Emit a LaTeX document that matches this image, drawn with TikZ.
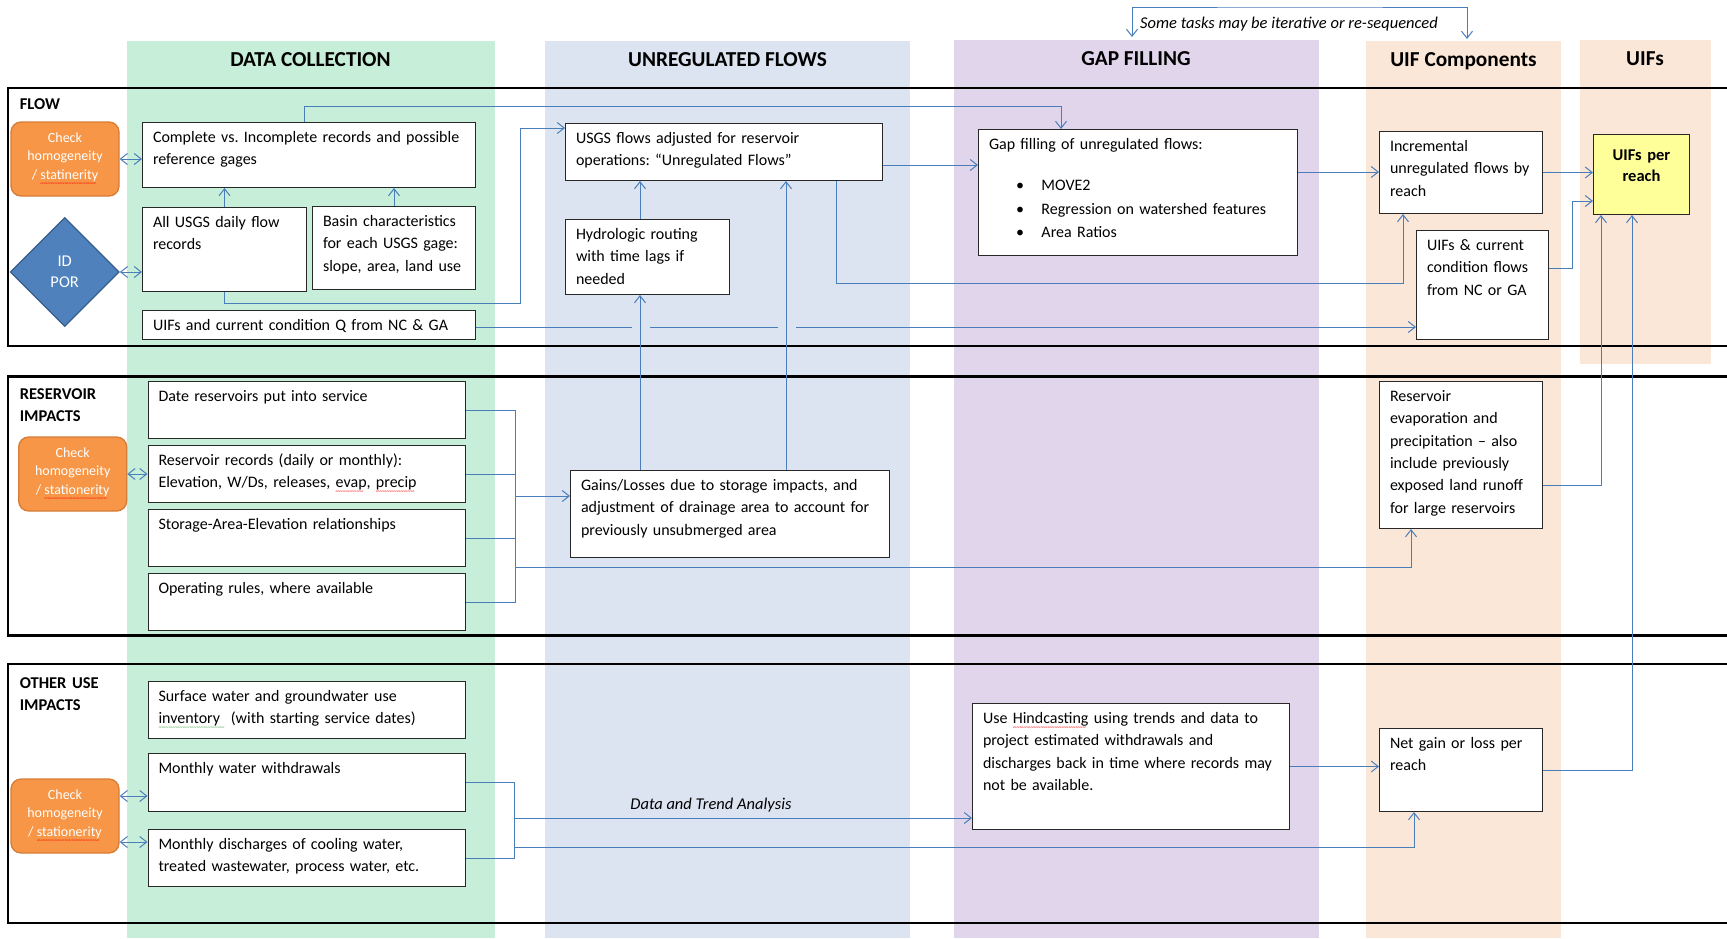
\documentclass[tikz,border=0pt]{standalone}
\usepackage{fontspec}
\setmainfont{Carlito}
\usetikzlibrary{arrows.meta}
\usetikzlibrary{shapes.geometric}
\frenchspacing

\definecolor{greencol}{RGB}{198,238,216}
\definecolor{bluecol}{RGB}{219,228,240}
\definecolor{purplecol}{RGB}{225,213,236}
\definecolor{peachcol}{RGB}{251,231,215}
\definecolor{checkfill}{RGB}{247,150,70}
\definecolor{checkline}{RGB}{214,125,55}
\definecolor{idfill}{RGB}{79,129,189}
\definecolor{idline}{RGB}{56,93,138}
\definecolor{uifyellow}{RGB}{255,255,153}
\definecolor{linkblue}{RGB}{74,126,187}
\definecolor{boxline}{RGB}{40,40,40}
\definecolor{spellgreen}{RGB}{80,170,80}

\newsavebox{\squigbox}
\newcommand{\squig}[2][red]{\sbox{\squigbox}{#2}\rlap{\usebox{\squigbox}}\hbox to \wd\squigbox{\color{#1}\leaders\hbox{\raisebox{-6pt}{\fontsize{7}{7}\selectfont\textasciitilde}}\hfill}}
\newcommand{\gapitem}{\hspace*{27pt}\makebox[25.5pt][l]{\textbullet}}
\newcommand{\boxlines}[1]{\begin{tabular}[t]{@{}l@{}}#1\end{tabular}}

\tikzset{
	cell/.style={draw=boxline, line width=1pt, fill=white, anchor=north west,
		inner xsep=10.5pt, inner ysep=0pt, align=left, text height=20pt},
	checkbox/.style={draw=checkline, line width=1.3pt, fill=checkfill, rounded corners=10pt,
		text=white, align=center, minimum width=108pt, minimum height=74pt, inner sep=0pt,
		font=\fontsize{14}{18.3}\selectfont},
	idbox/.style={diamond, draw=idline, line width=1.3pt, fill=idfill, text=white,
		align=center, minimum width=109pt, minimum height=109pt, inner sep=0pt,
		font=\fontsize{16.5}{21}\selectfont},
	uifbox/.style={cell, fill=uifyellow, align=center, text height=26pt,
		font=\fontsize{16.5}{21}\selectfont\bfseries},
	coltitle/.style={anchor=base, font=\fontsize{21.3}{25}\selectfont\bfseries},
	rowtitle/.style={anchor=north west, inner sep=0pt, text width=110pt, align=left,
		text height=12pt, font=\fontsize{16.5}{21.5}\selectfont\bfseries},
	rowframe/.style={draw=black, line width=2.2pt},
	link/.style={draw=linkblue, line width=1pt},
	linkarrow/.style={link, -{Straight Barb[length=7pt,width=11pt]}},
	twoway/.style={link, {Straight Barb[length=7pt,width=11pt]}-{Straight Barb[length=7pt,width=11pt]}},
	note/.style={anchor=base, font=\fontsize{16.5}{20}\selectfont\itshape},
}

\begin{document}
\begin{tikzpicture}[x=1pt, y=-1pt, font=\fontsize{16}{22.3}\selectfont]
	\useasboundingbox (0,0) rectangle (1727,938);
	\fill[greencol] (127,41) rectangle (494.5,938);
	\fill[bluecol] (545,41) rectangle (910,938);
	\fill[purplecol] (954,40) rectangle (1318.5,938);
	\fill[peachcol] (1366,41) rectangle (1561,938);
	\fill[peachcol] (1579.5,40) rectangle (1710.5,363.5);
	\node[coltitle] (tdata) at (310.5,66) {DATA COLLECTION};
	\node[coltitle] (tunreg) at (727.5,66) {UNREGULATED FLOWS};
	\node[coltitle] (tgap) at (1136,65) {GAP FILLING};
	\node[coltitle] (tcomp) at (1463.5,66) {UIF Components};
	\node[coltitle] (tuifs) at (1645,65.5) {UIFs};
	\coordinate (iterL) at (1132,37);
	\coordinate (iterR) at (1467,39);
	\draw[twoway] (iterL) |- (1300,7) -| (iterR);
	\node[note] (iternote) at (1289,28) {Some tasks may be iterative or re-sequenced};

	\draw[rowframe] (8,88) rectangle (1745,346);
	\draw[rowframe] (8,376.5) rectangle (1745,635.5);
	\draw[rowframe] (8,664) rectangle (1745,923);
	\node[rowtitle] (rflow) at (19.6,97.6) {FLOW};
	\node[rowtitle] (rres) at (19.6,387.3) {RESERVOIR\\IMPACTS};
	\node[rowtitle] (ruse) at (19.6,676.6) {OTHER USE\\IMPACTS};

	\node[checkbox] (check1) at (65,159) {Check\\homogeneity\\/ \squig{statinerity}};
	\node[idbox] (idpor) at (64.7,272) {ID\\POR};
	\node[cell, text width=312pt, text depth=45pt] (complete) at (142,122) {\boxlines{Complete vs. Incomplete records and possible\\reference gages}};
	\node[cell, text width=143pt, text depth=64pt] (allusgs) at (142,207) {\boxlines{All USGS daily flow\\records}};
	\node[cell, text width=142pt, text depth=63pt] (basin) at (312,206) {\boxlines{Basin characteristics\\for each USGS gage:\\slope, area, land use}};
	\node[cell, text width=312pt, text depth=9pt] (uifq) at (142,310) {\boxlines{UIFs and current condition Q from NC \& GA}};
	\node[cell, text width=296pt, text depth=37pt] (usgs) at (565,123) {\boxlines{USGS flows adjusted for reservoir\\operations: “Unregulated Flows”}};
	\node[cell, text width=143pt, text depth=55pt] (hydro) at (565,219) {\boxlines{Hydrologic routing\\with time lags if\\needed}};
	\node[cell, text width=298pt, text depth=106pt] (gapfill) at (978,129) {\boxlines{Gap filling of unregulated flows:\\[18.5pt]\gapitem MOVE2\\[1.4pt]\gapitem Regression on watershed features\\[1.4pt]\gapitem Area Ratios}};
	\node[cell, text width=142pt, text depth=62pt] (incr) at (1379,131) {\boxlines{Incremental\\unregulated flows by\\reach}};
	\node[cell, text width=111pt, text depth=89pt] (uifcur) at (1416,230) {\boxlines{UIFs \& current\\condition flows\\from NC or GA}};
	\node[uifbox, text width=75pt, text depth=54pt] (uifs) at (1593,134) {UIFs per\\reach};

	\node[checkbox] (check2) at (72.7,474) {Check\\homogeneity\\/ \squig{stationerity}};
	\node[cell, text width=296pt, text depth=37pt] (date) at (147.5,381) {\boxlines{Date reservoirs put into service}};
	\node[cell, text width=296pt, text depth=37pt] (resrec) at (147.5,445) {\boxlines{Reservoir records (daily or monthly):\\Elevation, W/Ds, releases, \squig{evap}, \squig{precip}}};
	\node[cell, text width=296pt, text depth=37pt] (storage) at (147.5,509) {\boxlines{Storage-Area-Elevation relationships}};
	\node[cell, text width=296pt, text depth=37pt] (oper) at (147.5,573) {\boxlines{Operating rules, where available}};
	\node[cell, text width=298pt, text depth=67pt] (gains) at (570,470) {\boxlines{Gains/Losses due to storage impacts, and\\adjustment of drainage area to account for\\previously unsubmerged area}};
	\node[cell, text width=142pt, text depth=127pt] (resevap) at (1379,381) {\boxlines{Reservoir\\evaporation and\\precipitation – also\\include previously\\exposed land runoff\\for large reservoirs}};

	\node[checkbox] (check3) at (65,816) {Check\\homogeneity\\/ \squig{stationerity}};
	\node[cell, text width=296pt, text depth=37pt] (surface) at (147.5,681) {\boxlines{Surface water and groundwater use\\\squig[spellgreen]{inventory\ }\ (with starting service dates)}};
	\node[cell, text width=296pt, text depth=38pt] (withdraw) at (147.5,753) {\boxlines{Monthly water withdrawals}};
	\node[cell, text width=296pt, text depth=37pt] (discharge) at (147.5,829) {\boxlines{Monthly discharges of cooling water,\\treated wastewater, process water, etc.}};
	\node[cell, text width=296pt, text depth=106pt] (hindcast) at (972,703) {\boxlines{Use \squig{Hindcasting} using trends and data to\\project estimated withdrawals and\\discharges back in time where records may\\not be available.}};
	\node[cell, text width=142pt, text depth=63pt] (netgain) at (1379,728) {\boxlines{Net gain or loss per\\reach}};
	\coordinate (resbus) at (515,0);
	\coordinate (usebus) at (514,0);

	\draw[twoway] (check1.east) -- (check1.east -| complete.west);
	\draw[twoway] (idpor.east) -- (idpor.east -| allusgs.west);
	\draw[linkarrow] (allusgs.north) -- (allusgs.north |- complete.south);
	\draw[linkarrow] (basin.north) -- (basin.north |- complete.south);
	\draw[linkarrow] ([xshift=-5pt]complete.north) -- ++(0,-16) -| ([xshift=-77pt]gapfill.north);
	\draw[linkarrow] (allusgs.south) -- ++(0,11) -| (520,128) -- (520,128 -| usgs.west);
	\draw[linkarrow] (640,0 |- hydro.north) -- (640,0 |- usgs.south);
	\draw[linkarrow] (usgs.east |- 0,165) -- (gapfill.west |- 0,165);
	\draw[linkarrow] (836,0 |- usgs.south) |- (1403,283) -- (1403,0 |- incr.south);
	\draw[linkarrow] (gapfill.east |- 0,172) -- (incr.west |- 0,172);
	\draw[linkarrow] (uifq.east |- 0,327) -- (uifcur.west |- 0,327);
	\fill[bluecol] (632,322) rectangle (650,332);
	\fill[bluecol] (778,322) rectangle (796,332);
	\draw[linkarrow] (uifcur.east |- 0,268) -| (1572,201) -- (1572,201 -| uifs.west);
	\draw[linkarrow] (incr.east) -- (incr.east -| uifs.west);

	\draw[twoway] (check2.east) -- (check2.east -| resrec.west);
	\draw[link] (date.east) -- (date.east -| resbus) -- (oper.east -| resbus) -- (oper.east);
	\draw[link] (resrec.east) -- (resrec.east -| resbus);
	\draw[link] (storage.east) -- (storage.east -| resbus);
	\draw[linkarrow] (resbus |- 0,496) -- (gains.west |- 0,496);
	\draw[linkarrow] (resbus |- 0,567) -| (1411,0 |- resevap.south);
	\draw[linkarrow] (640,0 |- gains.north) -- (640,0 |- hydro.south);
	\draw[linkarrow] (786,0 |- gains.north) -- (786,0 |- usgs.south);
	\draw[linkarrow] (resevap.east |- 0,485) -| (1601,0 |- uifs.south);

	\draw[twoway] (check3.east |- 0,796) -- (withdraw.west |- 0,796);
	\draw[twoway] (check3.east |- 0,842) -- (discharge.west |- 0,842);
	\draw[link] (withdraw.east) -- (withdraw.east -| usebus) -- (discharge.east -| usebus) -- (discharge.east);
	\draw[linkarrow] (usebus |- 0,818) -- node[note, pos=0.43, yshift=9pt] (trend) {Data and Trend Analysis} (hindcast.west |- 0,818);
	\draw[linkarrow] (usebus |- 0,847) -| (1414,0 |- netgain.south);
	\draw[linkarrow] (hindcast.east) -- (hindcast.east -| netgain.west);
	\draw[linkarrow] (netgain.east) -| (1632,0 |- uifs.south);
\end{tikzpicture}
\end{document}
